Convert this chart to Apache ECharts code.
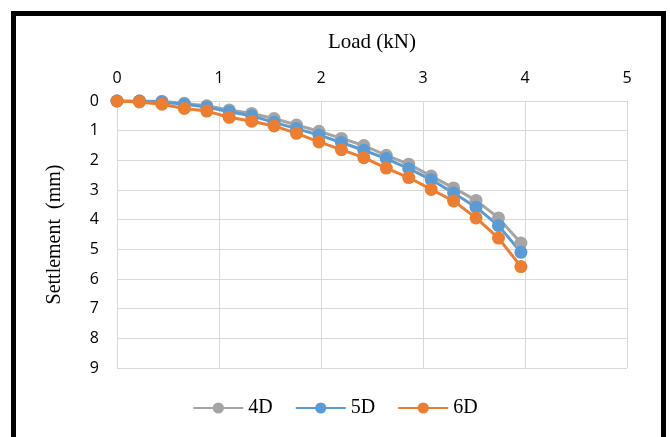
<!DOCTYPE html>
<html><head><meta charset="utf-8">
<script src="https://cdn.jsdelivr.net/npm/echarts@6/dist/echarts.min.js"></script>
<style>html,body{margin:0;padding:0;background:#fff}#c{width:670px;height:437px}</style>
</head><body><div id="c"></div>
<script>
const load = [0, 0.22, 0.44, 0.66, 0.88, 1.10, 1.32, 1.54, 1.76, 1.98, 2.20, 2.42, 2.64, 2.86, 3.08, 3.30, 3.52, 3.74, 3.96];
const s4D = [0, 0, 0.01, 0.08, 0.16, 0.30, 0.42, 0.59, 0.81, 1.02, 1.26, 1.50, 1.83, 2.13, 2.53, 2.93, 3.35, 3.94, 4.79];
const s5D = [0, 0, 0.03, 0.11, 0.20, 0.36, 0.50, 0.72, 0.93, 1.15, 1.40, 1.66, 1.94, 2.28, 2.65, 3.10, 3.58, 4.20, 5.10];
const s6D = [0, 0.03, 0.11, 0.25, 0.34, 0.55, 0.68, 0.84, 1.09, 1.38, 1.64, 1.91, 2.26, 2.58, 2.98, 3.37, 3.94, 4.62, 5.58];
const seriesNames = ['4D', '5D', '6D'];
const colors = ['#A5A5A5', '#5B9BD5', '#ED7D31'];

const chart = echarts.init(document.getElementById('c'));
const pairs = arr => load.map((x, i) => [x, arr[i]]);
const mk = (name, arr, color) => ({
  name, type: 'line', data: pairs(arr), symbol: 'circle', symbolSize: 13,
  lineStyle: {width: 3, color}, itemStyle: {color}, z: 2
});
chart.setOption({
  animation: false,
  graphic: [{type: 'rect', shape: {x: 13.5, y: 13.5, width: 650, height: 460},
    style: {fill: 'none', stroke: '#000', lineWidth: 5}, z: 10}],
  grid: {left: 117, top: 101, right: 43, bottom: 69},
  legend: {
    data: seriesNames, bottom: 14, left: 'center', itemWidth: 50, itemHeight: 14, itemGap: 22,
    textStyle: {fontFamily: 'Liberation Serif', fontSize: 20, color: '#000'}
  },
  xAxis: {
    type: 'value', position: 'top', min: 0, max: 5, interval: 1,
    name: 'Load (kN)', nameLocation: 'middle', nameGap: 48,
    nameTextStyle: {fontFamily: 'Liberation Serif', fontSize: 21, color: '#000'},
    axisLine: {show: true, lineStyle: {color: '#d9d9d9'}}, axisTick: {show: false},
    axisLabel: {fontFamily: 'Open Sans', fontSize: 16, color: '#000', margin: 15},
    splitLine: {lineStyle: {color: '#d9d9d9', width: 1}}
  },
  yAxis: {
    type: 'value', inverse: true, min: 0, max: 9, interval: 1,
    name: 'Settlement  (mm)', nameLocation: 'middle', nameGap: 52,
    nameTextStyle: {fontFamily: 'Liberation Serif', fontSize: 20, color: '#000'},
    axisLine: {show: true, lineStyle: {color: '#d9d9d9'}}, axisTick: {show: false},
    axisLabel: {fontFamily: 'Open Sans', fontSize: 16, color: '#000', margin: 18},
    splitLine: {lineStyle: {color: '#d9d9d9', width: 1}}
  },
  series: [mk('4D', s4D, colors[0]), mk('5D', s5D, colors[1]), mk('6D', s6D, colors[2])]
});
</script></body></html>
